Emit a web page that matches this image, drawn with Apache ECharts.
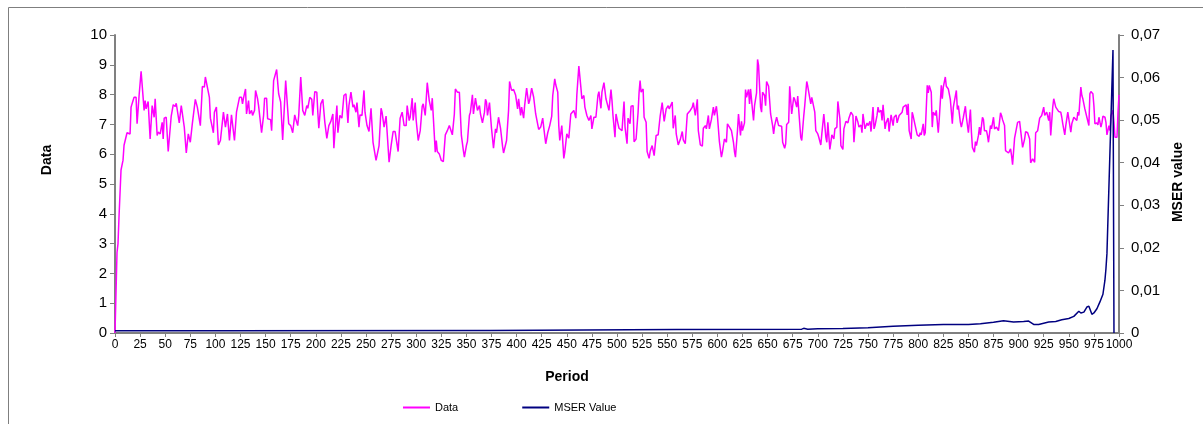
<!DOCTYPE html>
<html>
<head>
<meta charset="utf-8">
<script src="https://cdn.jsdelivr.net/npm/echarts@6/dist/echarts.min.js"></script>
<style>
  html, body { margin: 0; padding: 0; background: #fff; }
  #main { width: 1203px; height: 424px; }
</style>
</head>
<body>
<div id="main"></div>
<script>
const dataPeriods = [
  0, 2, 3, 4, 6, 8, 9, 12, 15, 16, 19, 21, 22, 24, 26,
  29, 30, 31, 33, 35, 37, 39, 40, 42, 43, 45, 47, 48, 49, 51,
  53, 56, 58, 60, 61, 64, 66, 69, 71, 73, 75, 77, 80, 82, 83,
  85, 87, 89, 90, 91, 94, 95, 96, 98, 99, 101, 103, 105, 108, 110,
  112, 113, 114, 116, 119, 121, 124, 126, 127, 128, 130, 131, 133, 134, 136,
  137, 139, 140, 142, 143, 146, 148, 149, 151, 152, 155, 156, 158, 161, 163,
  165, 167, 168, 170, 173, 175, 176, 177, 179, 180, 182, 183, 185, 187, 189,
  191, 192, 194, 196, 197, 199, 201, 202, 203, 205, 207, 209, 211, 213, 215,
  217, 218, 220, 221, 222, 224, 226, 228, 230, 232, 233, 235, 237, 238, 240,
  241, 243, 244, 246, 248, 249, 251, 253, 255, 257, 260, 263, 265, 266, 268,
  269, 270, 273, 275, 277, 279, 282, 284, 286, 288, 290, 291, 293, 294, 296,
  297, 299, 300, 302, 304, 306, 307, 309, 311, 313, 315, 316, 319, 320, 321,
  323, 325, 327, 329, 331, 333, 336, 338, 339, 341, 343, 345, 347, 348, 350,
  351, 353, 354, 356, 357, 359, 361, 363, 364, 366, 368, 369, 370, 371, 373,
  375, 377, 379, 380, 382, 384, 386, 387, 390, 392, 393, 395, 397, 399, 401,
  402, 404, 405, 407, 408, 410, 412, 413, 415, 417, 419, 420, 422, 424, 426,
  427, 429, 431, 433, 435, 436, 438, 439, 441, 442, 443, 445, 447, 448, 450,
  452, 454, 455, 457, 459, 460, 462, 464, 465, 467, 468, 470, 471, 472, 474,
  475, 477, 479, 481, 482, 484, 485, 487, 489, 490, 492, 494, 495, 496, 498,
  499, 501, 502, 505, 507, 508, 510, 511, 513, 514, 516, 517, 519, 521, 522,
  523, 524, 526, 527, 529, 530, 532, 533, 535, 536, 537, 539, 541, 543, 545,
  547, 549, 551, 552, 553, 555, 556, 558, 559, 561, 563, 565, 566, 568, 570,
  573, 575, 576, 578, 580, 581, 583, 585, 586, 588, 589, 591, 592, 594, 596,
  597, 599, 600, 602, 604, 605, 607, 609, 610, 612, 614, 616, 617, 618, 620,
  621, 623, 624, 625, 627, 628, 629, 631, 632, 633, 635, 636, 637, 639, 640,
  641, 643, 644, 645, 647, 648, 649, 651, 653, 655, 656, 657, 659, 660, 661,
  664, 665, 667, 668, 669, 671, 672, 674, 676, 677, 679, 680, 681, 683, 684,
  686, 687, 689, 690, 691, 693, 694, 695, 697, 698, 700, 701, 703, 704, 706,
  707, 708, 709, 710, 712, 713, 714, 716, 717, 719, 720, 722, 723, 725, 726,
  728, 730, 731, 733, 735, 736, 738, 740, 741, 743, 744, 745, 747, 749, 750,
  752, 753, 755, 756, 757, 759, 760, 761, 763, 764, 765, 767, 768, 770, 771,
  773, 775, 776, 778, 779, 781, 782, 784, 785, 786, 788, 789, 790, 791, 793,
  794, 795, 797, 798, 799, 801, 802, 803, 805, 806, 807, 809, 810, 811, 813,
  814, 815, 817, 818, 820, 821, 823, 824, 825, 827, 828, 830, 832, 834, 835,
  836, 838, 839, 840, 842, 843, 845, 847, 848, 850, 852, 853, 854, 856, 857,
  858, 860, 861, 862, 864, 865, 866, 868, 869, 870, 872, 873, 874, 875, 876,
  878, 879, 880, 882, 883, 884, 886, 887, 888, 890, 892, 893, 894, 896, 897,
  899, 901, 902, 904, 906, 907, 909, 911, 912, 914, 916, 917, 919, 921, 923,
  925, 926, 928, 930, 931, 932, 934, 935, 937, 938, 940, 942, 943, 944, 946,
  947, 949, 950, 952, 953, 955, 956, 958, 959, 960, 962, 963, 964, 966, 967,
  968, 970, 971, 972, 974, 975, 976, 978, 979, 980, 982, 983, 984, 986, 987,
  988, 990, 991, 992, 994, 995, 996, 998, 999, 1000
];
const dataValues = [
  0, 2.7, 3.0, 3.9, 5.47, 5.8, 6.3, 6.72, 6.68, 7.58, 7.91, 7.91, 7.02, 7.97, 8.78,
  7.47, 7.8, 7.52, 7.77, 6.51, 7.63, 7.24, 7.86, 6.63, 6.74, 6.68, 7.07, 6.51, 7.21, 7.24,
  6.09, 7.28, 7.66, 7.6, 7.71, 7.05, 7.63, 6.91, 6.04, 6.68, 6.4, 7.02, 7.84, 7.58, 7.6,
  6.96, 8.27, 8.25, 8.59, 8.53, 7.91, 7.21, 7.21, 6.72, 7.41, 7.58, 6.31, 6.46, 7.41, 6.91,
  7.35, 6.91, 6.46, 7.32, 6.46, 7.41, 7.91, 7.91, 7.69, 7.88, 8.19, 7.35, 7.8, 7.35, 7.47,
  7.3, 7.47, 8.14, 7.86, 7.63, 6.72, 7.3, 7.88, 7.88, 7.19, 7.16, 6.79, 8.47, 8.84, 8.03,
  7.75, 6.48, 6.46, 8.47, 7.02, 6.96, 7.02, 6.72, 7.32, 7.19, 6.96, 7.3, 8.59, 7.47, 7.3,
  7.63, 7.54, 7.91, 7.84, 7.3, 8.1, 8.08, 7.41, 6.87, 7.69, 7.84, 7.07, 6.53, 6.96, 7.1,
  7.35, 6.2, 7.19, 7.63, 6.72, 7.3, 7.21, 7.97, 8.03, 7.05, 7.63, 8.08, 7.58, 7.66, 7.41,
  7.73, 6.91, 7.32, 7.3, 8.14, 7.41, 6.96, 6.76, 7.54, 6.4, 5.79, 6.29, 7.54, 7.41, 6.91,
  6.87, 7.28, 5.73, 6.29, 6.76, 6.76, 6.09, 7.21, 7.41, 6.96, 6.96, 7.63, 7.13, 7.24, 7.88,
  7.13, 7.73, 7.13, 6.46, 6.79, 7.61, 7.69, 7.3, 8.4, 7.8, 7.47, 7.88, 6.07, 6.46, 6.09,
  6.01, 5.79, 5.75, 6.65, 6.79, 6.96, 6.65, 7.35, 8.19, 8.08, 8.08, 6.63, 6.12, 5.9, 6.29,
  6.42, 7.3, 7.41, 7.99, 7.35, 7.88, 7.47, 7.63, 7.35, 7.05, 7.41, 7.84, 7.75, 7.3, 7.73,
  6.87, 6.2, 6.85, 6.72, 7.24, 6.87, 6.27, 6.04, 6.46, 7.47, 8.44, 8.14, 8.17, 7.99, 7.52,
  7.86, 7.3, 7.58, 7.21, 7.63, 8.22, 7.69, 7.8, 8.22, 7.91, 7.35, 7.41, 6.83, 6.91, 7.21,
  6.91, 6.35, 6.72, 6.96, 7.28, 7.97, 8.53, 8.33, 8.08, 6.96, 6.46, 6.96, 5.86, 6.07, 6.68,
  6.54, 7.35, 7.41, 7.47, 7.21, 7.99, 8.96, 8.25, 7.86, 7.97, 7.58, 7.3, 7.35, 7.13, 7.3,
  6.85, 7.24, 7.24, 7.97, 8.1, 7.54, 8.08, 8.4, 7.86, 7.8, 7.47, 8.17, 7.8, 7.3, 6.57,
  7.35, 7.02, 6.87, 6.79, 7.77, 6.91, 6.35, 7.21, 7.02, 7.61, 7.63, 6.42, 6.51, 7.41, 8.08,
  8.47, 8.08, 8.19, 7.24, 7.07, 6.09, 5.86, 6.09, 6.29, 6.24, 5.95, 6.63, 6.65, 7.28, 7.73,
  7.1, 7.52, 7.63, 7.52, 7.47, 7.75, 6.87, 7.3, 6.68, 6.31, 6.49, 6.76, 6.48, 6.35, 7.35,
  7.47, 7.58, 7.73, 7.3, 7.84, 6.79, 6.31, 6.27, 6.87, 6.96, 6.85, 7.3, 6.85, 7.16, 7.58,
  7.3, 7.61, 7.3, 6.42, 5.9, 6.07, 6.51, 6.4, 7.02, 6.91, 6.79, 6.4, 6.09, 5.9, 6.79,
  7.35, 6.63, 7.1, 6.79, 7.05, 8.17, 7.91, 8.17, 7.69, 8.19, 7.47, 7.13, 7.63, 8.06, 9.18,
  8.98, 7.58, 7.41, 8.08, 7.97, 7.63, 8.44, 8.28, 7.35, 6.96, 6.68, 6.96, 7.24, 7.3, 6.96,
  6.94, 6.4, 6.2, 6.35, 7.0, 7.07, 8.28, 7.35, 7.91, 7.84, 7.58, 7.95, 7.91, 6.57, 6.46,
  7.28, 7.63, 8.44, 8.28, 8.33, 7.69, 7.91, 7.86, 7.41, 6.79, 6.68, 6.57, 6.31, 6.68, 7.35,
  6.96, 6.57, 6.4, 7.07, 6.16, 6.4, 6.65, 6.51, 6.85, 6.91, 7.77, 7.19, 6.29, 6.16, 6.85,
  7.1, 7.05, 7.21, 7.41, 7.3, 6.4, 7.28, 7.07, 6.91, 6.98, 6.72, 7.35, 6.85, 7.05, 6.96,
  7.1, 6.76, 7.58, 6.85, 6.96, 7.3, 7.58, 7.41, 7.47, 7.13, 7.66, 6.85, 7.05, 7.21, 6.76,
  7.32, 6.96, 7.24, 7.32, 7.05, 7.3, 7.24, 7.41, 7.58, 7.52, 7.66, 7.32, 7.69, 6.79, 6.51,
  7.41, 7.28, 6.96, 6.91, 6.65, 6.6, 6.72, 6.65, 7.02, 6.63, 6.72, 8.31, 8.06, 8.31, 8.08,
  6.91, 7.41, 7.3, 7.47, 6.72, 7.19, 8.31, 7.86, 8.25, 8.59, 8.28, 8.19, 7.84, 7.02, 7.58,
  7.52, 8.14, 7.5, 7.63, 7.07, 6.91, 7.24, 7.61, 7.24, 6.72, 7.5, 6.74, 6.23, 6.07, 6.42,
  6.29, 6.63, 6.91, 6.65, 7.24, 7.16, 6.79, 6.79, 6.63, 6.4, 6.96, 6.85, 6.91, 7.24, 6.85,
  6.91, 6.85, 6.79, 7.39, 7.3, 7.16, 6.96, 6.12, 6.09, 6.04, 6.18, 5.95, 5.65, 6.54, 6.54,
  7.07, 7.1, 7.07, 6.23, 6.51, 6.76, 6.72, 6.51, 5.71, 5.84, 5.73, 6.72, 6.79, 7.21, 7.3,
  7.58, 7.3, 7.41, 7.13, 7.41, 6.63, 7.58, 7.86, 7.58, 7.52, 7.43, 7.41, 7.24, 7.02, 6.65,
  6.96, 7.41, 7.19, 6.74, 7.02, 7.24, 7.19, 7.13, 7.41, 7.3, 8.25, 7.97, 7.86, 7.52, 7.58,
  7.24, 6.96, 8.03, 8.1, 8.03, 7.63, 7.02, 7.05, 6.98, 7.24, 6.91, 7.05, 7.28, 7.24, 7.07,
  6.65, 6.96, 6.79, 7.3, 7.47, 7.07, 6.57, 6.57, 7.41, 7.99
];

// MSER value (right axis)
const mserPeriods = [
  0, 114, 115, 374, 375, 559, 560, 684, 686, 690,
  700, 725, 750, 775, 800, 825, 850, 862, 875, 885,
  895, 905, 910, 915, 920, 930, 937, 943, 950, 955,
  960, 962, 965, 968, 970, 973, 975, 978, 981, 984,
  986, 987, 988, 994, 995
];
const mserValues = [
  0.0005, 0.0005, 0.0006, 0.0006, 0.0008, 0.0008, 0.0009, 0.0009, 0.0011, 0.0009,
  0.001, 0.00105, 0.00125, 0.0016, 0.0018, 0.002, 0.002, 0.0022, 0.0025, 0.0029,
  0.0026, 0.0027, 0.0028, 0.002, 0.002, 0.0026, 0.0027, 0.0031, 0.0034, 0.0039,
  0.0051, 0.0047, 0.0049, 0.0061, 0.0063, 0.0044, 0.0047, 0.0057, 0.0073, 0.0091,
  0.0124, 0.0151, 0.0187, 0.0665, 0
];

const FONT = "'Liberation Sans', Arial, sans-serif";
const AXIS_GREY = "#808080";

let myChart = echarts.init(document.getElementById("main"));

let option = {
  animation: false,
  backgroundColor: "#fff",
  textStyle: { fontFamily: FONT },
  grid: { left: 115, right: 84, top: 35, bottom: 91 },
  legend: {
    data: ["Data", "MSER Value"],
    left: 398,
    top: 397,
    icon: "rect",
    itemWidth: 27,
    itemHeight: 2,
    itemGap: 64,
    textStyle: { fontFamily: FONT, fontSize: 11, color: "#000" }
  },
  xAxis: {
    type: "value",
    min: 0,
    max: 1000,
    interval: 25,
    axisLine: { lineStyle: { color: AXIS_GREY, width: 2 } },
    axisTick: { length: 4, lineStyle: { color: AXIS_GREY } },
    axisLabel: {
      fontSize: 12,
      color: "#000",
      margin: 6,
      fontFamily: FONT,
      formatter: v => String(v)
    },
    splitLine: { show: false }
  },
  yAxis: [
    {
      type: "value",
      min: 0,
      max: 10,
      interval: 1,
      axisLine: { show: true, lineStyle: { color: AXIS_GREY, width: 2 } },
      axisTick: { show: true, length: 5, lineStyle: { color: AXIS_GREY } },
      axisLabel: { fontSize: 15, color: "#000", margin: 8, fontFamily: FONT },
      splitLine: { show: false }
    },
    {
      type: "value",
      position: "right",
      min: 0,
      max: 0.07,
      interval: 0.01,
      axisLine: { show: true, lineStyle: { color: AXIS_GREY, width: 2 } },
      axisTick: { show: true, length: 5, lineStyle: { color: AXIS_GREY } },
      axisLabel: {
        fontSize: 15,
        color: "#000",
        margin: 12,
        fontFamily: FONT,
        formatter: v => (Math.abs(v) < 1e-9 ? "0" : v.toFixed(2).replace(".", ","))
      },
      splitLine: { show: false }
    }
  ],
  series: [
    {
      name: "Data",
      type: "line",
      yAxisIndex: 0,
      showSymbol: false,
      color: "#ff00ff",
      lineStyle: { color: "#ff00ff", width: 1.5 },
      data: dataPeriods.map((p, i) => [p, dataValues[i]])
    },
    {
      name: "MSER Value",
      type: "line",
      yAxisIndex: 1,
      showSymbol: false,
      color: "#000080",
      lineStyle: { color: "#000080", width: 1.5 },
      data: mserPeriods.map((p, i) => [p, mserValues[i]])
    }
  ],
  graphic: [
    {
      type: "rect",
      silent: true,
      shape: { x: 8.5, y: 7.5, width: 1400, height: 600 },
      style: { fill: "none", stroke: "#7f7f7f", lineWidth: 1 }
    },
    {
      type: "text",
      x: 47,
      y: 160,
      rotation: Math.PI / 2,
      style: {
        text: "Data",
        font: "bold 14px " + FONT,
        fill: "#000",
        textAlign: "center",
        textVerticalAlign: "middle"
      }
    },
    {
      type: "text",
      x: 1178,
      y: 182,
      rotation: Math.PI / 2,
      style: {
        text: "MSER value",
        font: "bold 14px " + FONT,
        fill: "#000",
        textAlign: "center",
        textVerticalAlign: "middle"
      }
    },
    {
      type: "text",
      x: 567,
      y: 377,
      style: {
        text: "Period",
        font: "bold 14px " + FONT,
        fill: "#000",
        textAlign: "center",
        textVerticalAlign: "middle"
      }
    }
  ]
};

myChart.setOption(option);
</script>
</body>
</html>
